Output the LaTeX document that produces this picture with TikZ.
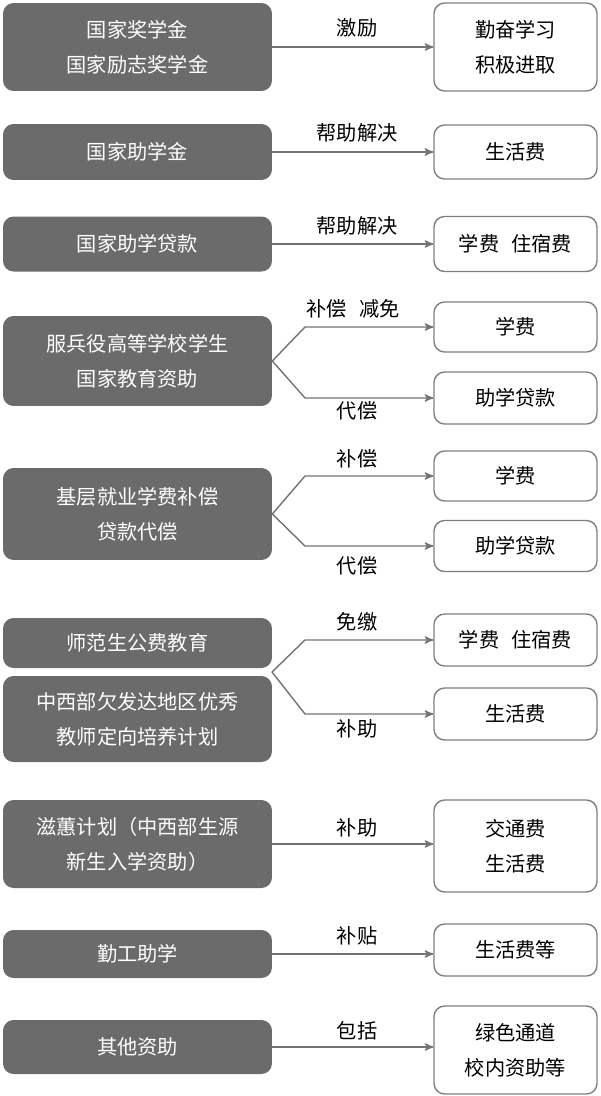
\documentclass[tikz,border=0pt]{standalone}
\usepackage{fontspec}
\setmainfont{Noto Sans CJK SC}
\usetikzlibrary{arrows}
\tikzstyle{arrow} = [draw=black!55, thick, ->, >=stealth']
\tikzstyle{lbox} = [rectangle, rounded corners=6pt, fill=black!58, text=white, minimum width=5.38cm, align=center, font=\fontsize{11.5}{20}\selectfont]
\tikzstyle{rbox} = [rectangle, rounded corners=6pt, draw=black!50, thick, fill=white, minimum width=3.26cm, align=center, font=\fontsize{11.5}{20}\selectfont]
\tikzstyle{lab} = [font=\fontsize{11.5}{14}\selectfont]

\begin{document}
\begin{tikzpicture}[x=0.02cm, y=-0.02cm]
		\useasboundingbox (0,0) rectangle (600,1096);
		% row 1
		\node (l1) [lbox, minimum height=1.76cm] at (137.5,47) {国家奖学金\\国家励志奖学金};
		\node (r1) [rbox, minimum height=1.76cm] at (515.5,47) {勤奋学习\\积极进取};
		\draw [arrow] (l1) -- (r1);
		\node (t1) [lab] at (357,28) {激励};
		% row 2
		\node (l2) [lbox, minimum height=1.12cm] at (137.5,152) {国家助学金};
		\node (r2) [rbox, minimum height=1.08cm] at (515.5,152) {生活费};
		\draw [arrow] (l2) -- (r2);
		\node (t2) [lab] at (357,133) {帮助解决};
		% row 3
		\node (l3) [lbox, minimum height=1.1cm] at (137.5,244) {国家助学贷款};
		\node (r3) [rbox, minimum height=1.1cm] at (515.5,244) {学费\hspace{0.6em}住宿费};
		\draw [arrow] (l3) -- (r3);
		\node (t3) [lab] at (357,226) {帮助解决};
		% row 4
		\node (l4) [lbox, minimum height=1.8cm] at (137.5,361) {服兵役高等学校学生\\国家教育资助};
		\node (r4a) [rbox, minimum height=1.0cm] at (515.5,327) {学费};
		\node (r4b) [rbox, minimum height=1.04cm] at (515.5,398) {助学贷款};
		\coordinate (k4a) at (305,327);
		\coordinate (k4b) at (305,398);
		\draw [arrow] (l4.east) -- (k4a) -- (r4a);
		\draw [arrow] (l4.east) -- (k4b) -- (r4b);
		\node (t4a) [lab] at (353,309) {补偿\hspace{0.6em}减免};
		\node (t4b) [lab] at (357,411) {代偿};
		% row 5
		\node (l5) [lbox, minimum height=1.84cm] at (137.5,514) {基层就业学费补偿\\贷款代偿};
		\node (r5a) [rbox, minimum height=1.0cm] at (515.5,476) {学费};
		\node (r5b) [rbox, minimum height=1.02cm] at (515.5,546) {助学贷款};
		\coordinate (k5a) at (305,476);
		\coordinate (k5b) at (305,546);
		\draw [arrow] (l5.east) -- (k5a) -- (r5a);
		\draw [arrow] (l5.east) -- (k5b) -- (r5b);
		\node (t5a) [lab] at (357,459) {补偿};
		\node (t5b) [lab] at (357,566) {代偿};
		% row 6
		\node (l6a) [lbox, minimum height=1.0cm] at (137.5,643) {师范生公费教育};
		\node (l6b) [lbox, minimum height=1.72cm] at (137.5,719) {中西部欠发达地区优秀\\教师定向培养计划};
		\node (r6a) [rbox, minimum height=1.04cm] at (515.5,640) {学费\hspace{0.6em}住宿费};
		\node (r6b) [rbox, minimum height=1.04cm] at (515.5,714) {生活费};
		\coordinate (j6) at (272,672);
		\coordinate (k6a) at (305,640);
		\coordinate (k6b) at (305,714);
		\draw [arrow] (j6) -- (k6a) -- (r6a);
		\draw [arrow] (j6) -- (k6b) -- (r6b);
		\node (t6a) [lab] at (357,622) {免缴};
		\node (t6b) [lab] at (357,729) {补助};
		% row 7
		\node (l7) [lbox, minimum height=1.76cm] at (137.5,844) {滋蕙计划（中西部生源\\新生入学资助）};
		\node (r7) [rbox, minimum height=1.84cm] at (515.5,846) {交通费\\生活费};
		\draw [arrow] (l7.east) -- (r7.west |- l7.east);
		\node (t7) [lab] at (357,828) {补助};
		% row 8
		\node (l8) [lbox, minimum height=0.96cm] at (137.5,954) {勤工助学};
		\node (r8) [rbox, minimum height=1.04cm] at (515.5,950) {生活费等};
		\draw [arrow] (l8.east) -- (r8.west |- l8.east);
		\node (t8) [lab] at (357,936) {补贴};
		% row 9
		\node (l9) [lbox, minimum height=1.08cm] at (137.5,1047) {其他资助};
		\node (r9) [rbox, minimum height=1.76cm] at (515.5,1050) {绿色通道\\校内资助等};
		\draw [arrow] (l9.east) -- (r9.west |- l9.east);
		\node (t9) [lab] at (357,1031) {包括};
\end{tikzpicture}
\end{document}
